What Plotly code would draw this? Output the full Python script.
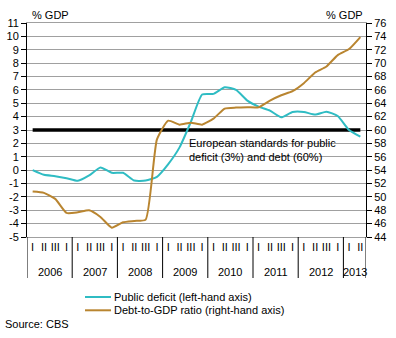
import plotly.graph_objects as go

# Quarterly series, 2006 Q1 - 2013 Q2
years = [2006, 2007, 2008, 2009, 2010, 2011, 2012, 2013]
quarters_per_year = [4, 4, 4, 4, 4, 4, 4, 2]
quarter_names = ["I", "II", "III", "I"]

deficit = [0.0, -0.35, -0.45, -0.6, -0.8, -0.4, 0.2, -0.2, -0.2, -0.78,
           -0.78, -0.5, 0.45, 1.7, 3.6, 5.65, 5.7, 6.2, 6.0, 5.2,
           4.75, 4.45, 3.95, 4.35, 4.35, 4.15, 4.37, 4.05, 3.0, 2.5]
debt = [50.8, 50.6, 49.7, 47.6, 47.7, 48.0, 47.0, 45.4, 46.2, 46.4,
        46.6, 58.6, 61.4, 60.8, 61.1, 60.8, 61.7, 63.2, 63.35, 63.4,
        63.4, 64.4, 65.2, 65.8, 67.0, 68.6, 69.5, 71.2, 72.1, 73.9]
eu_deficit_limit = 3

left_ticks = list(range(-5, 12))
right_ticks = list(range(44, 77, 2))

series_names = ["Public deficit (left-hand axis)", "Debt-to-GDP ratio (right-hand axis)"]
series_colors = ["#2fbcc3", "#b98530"]
annotation_text = "European standards for public<br>deficit (3%) and debt (60%)"

FONT = "Liberation Sans, Arial, sans-serif"
FS = 11

tick_text = []
for n in quarters_per_year:
    tick_text += quarter_names[:n]
x = list(range(len(tick_text)))

fig = go.Figure()
fig.add_trace(go.Scatter(x=x, y=[eu_deficit_limit] * len(x), mode="lines",
                         line=dict(color="black", width=3.5), showlegend=False,
                         hoverinfo="skip"))
fig.add_trace(go.Scatter(x=x, y=deficit, mode="lines", name=series_names[0],
                         line=dict(color=series_colors[0], width=2, shape="spline", smoothing=0.5),
                         showlegend=False))
fig.add_trace(go.Scatter(x=x, y=debt, mode="lines", name=series_names[1], yaxis="y2",
                         line=dict(color=series_colors[1], width=2, shape="spline", smoothing=0.5),
                         showlegend=False))

T, B = 23, 101
H = 338 - T - B
L, R = 27, 30
W = 396 - L - R


def py(px):
    return (338 - B - px) / H


def px_x(px):
    return (px - L) / W


shapes = []
annotations = []

# year separators and year labels below the axis
start = 0
for yr, n in zip(years, quarters_per_year):
    shapes.append(dict(type="line", xref="x", yref="paper", x0=start - 0.5, x1=start - 0.5,
                       y0=0, y1=py(278), line=dict(color="black", width=1)))
    annotations.append(dict(text=str(yr), xref="x", yref="paper", x=start + (n - 1) / 2,
                            y=py(272), showarrow=False, yanchor="middle",
                            font=dict(family=FONT, size=FS, color="black")))
    start += n
shapes.append(dict(type="line", xref="x", yref="paper", x0=start - 0.5, x1=start - 0.5,
                   y0=0, y1=py(278), line=dict(color="black", width=1)))

# legend
for i, (name, col) in enumerate(zip(series_names, series_colors)):
    yy = py(297 + 13.3 * i)
    shapes.append(dict(type="line", xref="paper", yref="paper", x0=px_x(85), x1=px_x(111),
                       y0=yy, y1=yy, line=dict(color=col, width=2)))
    annotations.append(dict(text=name, xref="paper", yref="paper", x=px_x(112), y=yy,
                            xanchor="left", yanchor="middle", showarrow=False,
                            font=dict(family=FONT, size=FS, color="black")))

annotations += [
    dict(text="% GDP", xref="paper", yref="paper", x=px_x(30), y=py(15), xanchor="left",
         yanchor="middle", showarrow=False, font=dict(family=FONT, size=FS, color="black")),
    dict(text="% GDP", xref="paper", yref="paper", x=px_x(365), y=py(15), xanchor="right",
         yanchor="middle", showarrow=False, font=dict(family=FONT, size=FS, color="black")),
    dict(text=annotation_text, xref="paper", yref="paper", x=px_x(187), y=py(135),
         xanchor="left", yanchor="top", align="left", showarrow=False,
         font=dict(family=FONT, size=FS, color="black")),
    dict(text="Source: CBS", xref="paper", yref="paper", x=px_x(3), y=py(324),
         xanchor="left", yanchor="middle", showarrow=False,
         font=dict(family=FONT, size=FS, color="black")),
]

fig.update_layout(
    width=396, height=338,
    margin=dict(l=L, r=R, t=T, b=B, autoexpand=False),
    paper_bgcolor="white", plot_bgcolor="white",
    font=dict(family=FONT, size=FS, color="black"),
    xaxis=dict(range=[-0.5, len(x) - 0.5], tickmode="array", tickvals=x, ticktext=tick_text,
               showgrid=False, zeroline=False, showline=True, mirror=True, automargin=False,
               linecolor="#a0a0a0", linewidth=1, ticks="", tickfont=dict(size=FS)),
    yaxis=dict(range=[-5, 11], tickmode="array", tickvals=left_ticks,
               ticktext=[str(v) for v in left_ticks], automargin=False,
               showgrid=True, gridcolor="#a0a0a0", gridwidth=1,
               zeroline=False, showline=True, linecolor="black", linewidth=1,
               ticks="outside", ticklen=5, tickcolor="black"),
    yaxis2=dict(range=[44, 76], tickmode="array", tickvals=right_ticks,
                ticktext=[str(v) for v in right_ticks], automargin=False,
                overlaying="y", side="right", showgrid=False,
                zeroline=False, showline=True, linecolor="black", linewidth=1,
                ticks="outside", ticklen=5, tickcolor="black"),
    shapes=shapes,
    annotations=annotations,
    showlegend=False,
)

fig.write_html("out.html")
